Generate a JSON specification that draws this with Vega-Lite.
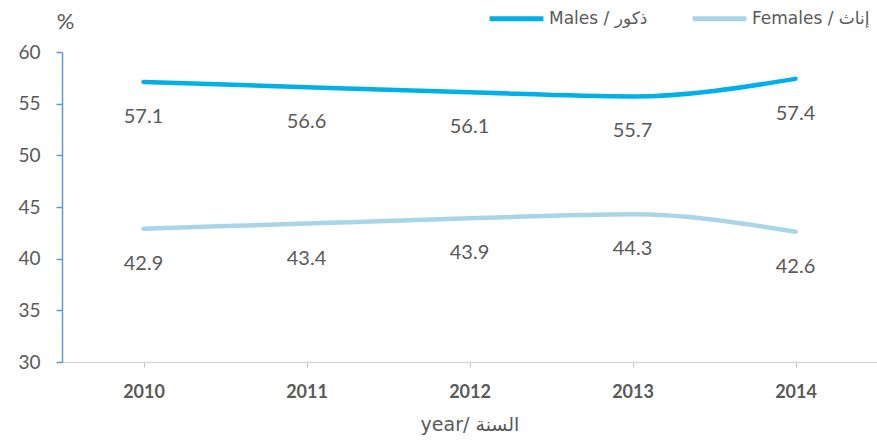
{
  "$schema": "https://vega.github.io/schema/vega-lite/v6.json",
  "width": 815,
  "height": 310,
  "autosize": {"type": "none"},
  "padding": {"left": 62, "top": 52, "right": 0, "bottom": 79},
  "background": "white",
  "config": {
    "view": {"stroke": null},
    "font": "Lato"
  },
  "data": {
    "values": [
      {"year": "2010", "group": "Males / ذكور", "value": 57.1},
      {"year": "2011", "group": "Males / ذكور", "value": 56.6},
      {"year": "2012", "group": "Males / ذكور", "value": 56.1},
      {"year": "2013", "group": "Males / ذكور", "value": 55.7},
      {"year": "2014", "group": "Males / ذكور", "value": 57.4},
      {"year": "2010", "group": "Females / إناث", "value": 42.9},
      {"year": "2011", "group": "Females / إناث", "value": 43.4},
      {"year": "2012", "group": "Females / إناث", "value": 43.9},
      {"year": "2013", "group": "Females / إناث", "value": 44.3},
      {"year": "2014", "group": "Females / إناث", "value": 42.6}
    ]
  },
  "encoding": {
    "x": {
      "field": "year",
      "type": "ordinal",
      "scale": {"type": "point", "padding": 0.5},
      "axis": {
        "title": "year/ السنة",
        "titleFont": "DejaVu Sans",
        "titleFontSize": 19,
        "titleFontWeight": "normal",
        "titleColor": "#595959",
        "titlePadding": 14,
        "labelAngle": 0,
        "labelFontSize": 18,
        "labelFontWeight": "bold",
        "labelColor": "#595959",
        "labelPadding": 16,
        "domainColor": "#d9d9d9",
        "domainWidth": 1.5,
        "tickColor": "#bfbfbf",
        "tickSize": 5,
        "grid": false
      }
    },
    "y": {
      "field": "value",
      "type": "quantitative",
      "scale": {"domain": [30, 60], "nice": false, "zero": false},
      "axis": {
        "title": "%",
        "titleAngle": 0,
        "titleAlign": "center",
        "titleBaseline": "middle",
        "titleX": 3,
        "titleY": -31,
        "titleFontSize": 22,
        "titleFontWeight": "normal",
        "titleColor": "#595959",
        "values": [30, 35, 40, 45, 50, 55, 60],
        "labelFontSize": 19,
        "labelColor": "#595959",
        "labelPadding": 16,
        "domainColor": "#5b9bd5",
        "domainWidth": 1.5,
        "tickColor": "#5b9bd5",
        "tickWidth": 1.5,
        "tickSize": 6,
        "grid": false
      }
    },
    "color": {
      "field": "group",
      "type": "nominal",
      "scale": {
        "domain": ["Males / ذكور", "Females / إناث"],
        "range": ["#00b0e6", "#a9d5e8"]
      },
      "legend": {
        "title": null,
        "orient": "none",
        "legendX": 425,
        "legendY": -63,
        "direction": "horizontal",
        "columns": 2,
        "columnPadding": 34,
        "symbolType": "stroke",
        "symbolSize": 2900,
        "symbolStrokeWidth": 5,
        "labelFont": "DejaVu Sans",
        "labelFontSize": 17,
        "labelColor": "#595959",
        "labelOffset": 3
      }
    }
  },
  "layer": [
    {
      "mark": {"type": "line", "interpolate": "monotone", "strokeWidth": 4.5, "strokeCap": "round"}
    },
    {
      "mark": {"type": "text", "dy": 35, "fontSize": 20, "color": "#595959", "baseline": "middle"},
      "encoding": {
        "text": {"field": "value", "type": "quantitative", "format": ".1f"},
        "color": {"value": "#595959"}
      }
    }
  ]
}
